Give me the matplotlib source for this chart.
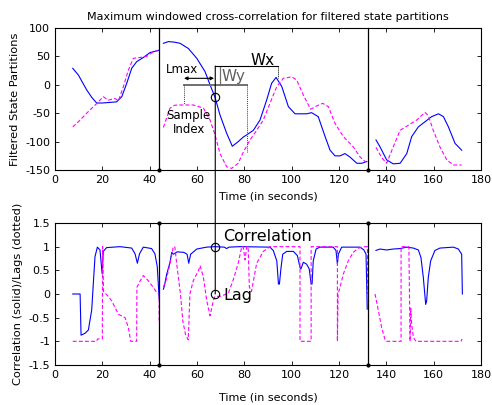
import matplotlib
matplotlib.use("Agg")
import matplotlib.pyplot as plt
from matplotlib.patches import ConnectionPatch
from matplotlib.ticker import FormatStrFormatter

plt.rcParams['font.family'] = ['DejaVu Sans']
plt.rcParams['axes.unicode_minus'] = False

# ---------------- data: top panel (filtered state partitions) ----------------
tx1 = [7.5, 9.9, 11.5, 13.4, 15.5, 17.6, 20, 23, 26, 28.2, 30.3, 32.4, 34.5, 37.3, 40.1, 43.2, 44]
x1 = [29, 17, 5, -9, -22, -32, -32, -31, -30, -21, 2.6, 29, 40.7, 48, 56.6, 60, 61]
tx2 = [45.8, 47.9, 50.5, 52.8, 56.3, 59.9, 63.4, 65.5, 67.6, 69.7, 72.5, 74.9, 77.4, 79.5, 81,
       83.8, 86.6, 89.4, 91.5, 93.4, 95.8, 98.6, 101.4, 106.3, 108.4, 111.2, 114.1, 116.2, 118.3,
       120.4, 122.5, 124.6, 127.5, 129.6, 131.7]
x2 = [73, 76, 75, 73, 64, 46.6, 23, 0, -22, -53, -85, -108, -100, -92, -88,
      -80, -62, -27, 2.6, 13, -3, -38.5, -51, -51, -49, -56, -91, -115, -125,
      -125, -121, -127, -138, -138, -135]
tx3 = [135.6, 137.3, 140.1, 142.9, 145.8, 148.6, 150.7, 153.5, 156.3, 159.1, 162, 164.1, 166.2, 169, 171.8]
x3 = [-97, -109, -132, -139, -138, -121, -91, -74, -65, -56, -51, -56, -74, -103, -115]

ty1 = [7.5, 10.6, 14.1, 17.6, 20.4, 22.5, 25.3, 26.8, 28.9, 31, 33.1, 35.9, 38.7, 41.5, 43.5]
y1 = [-74, -62, -47, -33, -21, -27, -24, -28, -3, 26, 46.6, 48, 50, 58, 60]
ty2 = [45.8, 47.0, 48.6, 50.5, 52.8, 58.4, 62.7, 65.5, 67.6, 69.7, 72.5, 74.6, 77.4, 79.6, 82.4,
       85.2, 88, 90.8, 93.7, 96.5, 100, 102.1, 104.9, 108, 110.6, 113.1, 115.5, 118.3, 121.8,
       126, 128.9, 131]
y2 = [-75, -60, -41, -36, -35.5, -35.5, -41, -62, -88, -121, -144, -147, -138, -118, -97,
      -80, -62, -32.6, -3, 11.4, 14, 8.5, -18, -43, -37, -32.6, -38.5, -68, -91,
      -109, -127, -135]
ty3 = [135.6, 138, 140.1, 142.9, 145.8, 149.3, 152.8, 156.3, 157.7, 159.8, 162.6, 165.5, 168.3, 171.8]
y3 = [-110, -128, -138, -109, -80, -71, -62, -48.5, -54, -80, -109, -132, -141, -141]

# ---------------- data: bottom panel (correlation / lag) ----------------
tc1 = [7.5, 10.6, 11.0, 12.7, 14.1, 15.5, 16.2, 16.9, 17.9, 19.0, 19.6, 19.9, 20.4, 21.8, 27.5,
       32.4, 33.8, 34.8, 35.7, 37.3, 40.8, 42.2, 43.2, 44.0]
c1 = [0, 0, -0.87, -0.83, -0.76, -0.34, 0.23, 0.79, 0.99, 0.93, 0.6, 0.43, 0.9, 0.98, 1.0,
      0.97, 0.85, 0.65, 0.85, 0.99, 0.96, 0.85, 0.58, -0.1]
tc2 = [45.8, 46.2, 47.2, 48.6, 49.3, 50.0, 51.6, 54.4, 55.8, 56.5, 57.3, 59.9, 64.1, 67.6, 71.5,
       72.5, 73.5, 78.2, 90.8, 92.2, 93.7, 94.4, 94.8, 95.5, 96.2, 97.9, 100.7, 102.4, 103.5,
       103.9, 104.9, 106.3, 107.4, 108.2, 108.6, 109.1, 110.3, 111.9, 117.5, 118.7, 119.3,
       119.7, 121.1, 128.9, 130.5, 131.4, 131.9]
c2 = [0.1, 0.17, 0.42, 0.67, 0.88, 0.84, 0.89, 0.88, 0.84, 0.65, 0.84, 0.95, 0.99, 1.0, 0.99,
      0.96, 0.99, 1.0, 0.99, 0.92, 0.70, 0.21, 0.21, 0.56, 0.84, 0.9, 0.9, 0.81, 0.56,
      0.53, 0.67, 0.63, 0.53, 0.21, 0.21, 0.70, 0.95, 0.99, 0.99, 0.92, 0.63,
      0.84, 0.99, 0.99, 0.93, 0.84, -0.32]
tc3 = [135.6, 137.3, 140.1, 142.9, 145.8, 148.6, 151.4, 153.5, 154.6, 155.6, 156.6, 157.0, 157.7,
       158.7, 160.5, 162.6, 168.3, 170.4, 171.8, 172.1]
c3 = [0.92, 0.95, 0.93, 0.95, 0.96, 0.99, 0.97, 0.93, 0.77, 0.35, -0.22, -0.15, 0.35,
      0.7, 0.92, 0.97, 0.99, 0.95, 0.84, 0.0]

tl1 = [7.5, 17.5, 18.0, 20.0, 20.1, 20.5, 22.5, 24.0, 26.8, 29.6, 31.0, 32.0, 34.5, 34.6, 36.0,
       37.3, 39.4, 41.5, 43.0, 44.0, 44.0]
l1 = [-1, -1, -0.95, -0.95, 1.0, 0.05, -0.05, -0.15, -0.43, -0.5, -0.71, -1.0, -1.0, 0.14, 0.28,
      0.39, 0.28, 0.14, 0.03, 0.0, -0.6]
tl2 = [45.8, 47.0, 48.6, 50.0, 50.6, 51.6, 53.0, 54.0, 55.1, 56.3, 57.0, 58.4, 60.6, 61.3, 62.7,
       64.1, 65.5, 66.9, 67.6, 69.7, 73.2, 75.3, 77.4, 78.9, 79.5, 80.3, 81.0, 81.6, 82.1, 83.0,
       85.2, 88.0, 90.8, 103.5, 103.5, 108.2, 108.2, 119.3, 119.3, 119.6, 120.4, 121.8, 123.9,
       126.0, 128.2, 131.0, 132.0, 132.0]
l2 = [0.15, 0.3, 0.65, 1.0, 1.0, 0.56, 0.0, -0.57, -0.85, -0.97, 0.0, 0.28, 0.49, 0.6, 0.35,
      -0.14, -0.46, -0.14, -0.05, -0.05, 0.01, 0.3, 0.65, 1.0, 1.0, 0.72, 1.0, 1.0, 0.15, 0.05,
      0.65, 0.9, 1.0, 1.0, -1.0, -1.0, 1.0, 1.0, -1.0, 0.0, 0.14, 0.42, 0.7,
      0.88, 0.97, 1.0, 1.0, 0.0]
tl3 = [135.2, 136.6, 138.0, 139.4, 140.0, 146.2, 146.2, 149.5, 150.0, 150.3, 150.6, 151.4, 152.5, 171.5, 172.0]
l3 = [0.0, -0.35, -0.71, -0.96, -1.0, -1.0, 1.0, 1.0, -1.0, -0.3, -0.6, -0.92, -1.0, -1.0, -0.95]

boundaries = [44.1, 132.4]
xticks = [0, 20, 40, 60, 80, 100, 120, 140, 160, 180]
top_yticks = [-150, -100, -50, 0, 50, 100]
bot_yticks = [-1.5, -1, -0.5, 0, 0.5, 1, 1.5]

BLUE = '#0000ff'
MAG = '#ff00ff'
DASH = (0, (3.5, 2))

fig = plt.figure(figsize=(4.92, 4.05), dpi=100)
ax1 = fig.add_axes([0.1118, 0.580, 0.866, 0.351])
ax2 = fig.add_axes([0.1118, 0.0988, 0.866, 0.3506])

for ax in (ax1, ax2):
    ax.set_xlim(0, 180)
    ax.set_xticks(xticks)
    ax.tick_params(direction='in', top=True, right=True, labelsize=8, length=3, width=0.6)
    for s in ax.spines.values():
        s.set_linewidth(0.8)

ax1.set_xlabel('Time (in seconds)', fontsize=8, labelpad=4.5)
ax2.set_xlabel('Time (in seconds)', fontsize=8, labelpad=9)

# top panel
for t, v in ((tx1, x1), (tx2, x2), (tx3, x3)):
    ax1.plot(t, v, color=BLUE, lw=0.8)
for t, v in ((ty1, y1), (ty2, y2), (ty3, y3)):
    ax1.plot(t, v, color=MAG, lw=0.8, ls=DASH)
ax1.set_ylim(-150, 100)
ax1.set_yticks(top_yticks)
ax1.set_ylabel('Filtered State Partitions', fontsize=8.2, labelpad=3.5)
ax1.set_title('Maximum windowed cross-correlation for filtered state partitions', fontsize=8, pad=6)
for b in boundaries:
    ax1.plot([b, b], [-150, 100], color='k', lw=0.9, clip_on=False)
    ax1.plot([b], [-150], 'k.', ms=4, clip_on=False)

# bottom panel
for t, v in ((tc1, c1), (tc2, c2), (tc3, c3)):
    ax2.plot(t, v, color=BLUE, lw=0.8)
for t, v in ((tl1, l1), (tl2, l2), (tl3, l3)):
    ax2.plot(t, v, color=MAG, lw=0.8, ls=DASH)
ax2.set_ylim(-1.5, 1.5)
ax2.set_yticks(bot_yticks)
ax2.yaxis.set_major_formatter(FormatStrFormatter('%g'))
ax2.set_ylabel('Correlation (solid)/Lags (dotted)', fontsize=8.2, labelpad=4)
for b in boundaries:
    ax2.plot([b, b], [-1.5, 1.5], color='k', lw=0.9, clip_on=False)
    ax2.plot([b, b], [-1.5, 1.5], 'k.', ms=4, clip_on=False)

# annotations (top)
xs = 67.7
ax1.plot([xs, 94.2], [33, 33], color='k', lw=0.8)
ax1.plot([94.2, 94.2], [33, 12], color='k', lw=0.7, ls=(0, (1, 1)))
ax1.text(87.5, 43, 'Wx', fontsize=11, ha='center', va='center')
ax1.plot([54.4, 81.1], [0, 0], color='#707070', lw=1.4)
ax1.plot([54.4, 54.4], [0, -33], color='#404040', lw=0.7, ls=(0, (1, 1)))
ax1.plot([81.1, 81.1], [0, -118], color='#404040', lw=0.7, ls=(0, (1, 1)))
ax1.plot([69.6, 69.6], [0, 32], color='#707070', lw=0.9)
ax1.text(75.5, 14, 'Wy', fontsize=11, ha='center', va='center', color='#606060')
ax1.annotate('', xy=(67.2, 11.4), xytext=(54.5, 11.4),
             arrowprops=dict(arrowstyle='<|-|>', color='k', lw=0.8, mutation_scale=5,
                             shrinkA=0, shrinkB=0))
ax1.text(53.5, 27, 'Lmax', fontsize=8.5, ha='center', va='center')
ax1.text(56.5, -66, 'Sample\nIndex', fontsize=8.5, ha='center', va='center', linespacing=1.05)
ax1.plot([xs], [-22], 'o', mfc='none', mec='k', ms=6, mew=0.8)

# annotations (bottom)
ax2.plot([xs], [1.0], 'o', mfc='none', mec='k', ms=6, mew=0.8)
ax2.plot([xs], [0.0], 'o', mfc='none', mec='k', ms=6, mew=0.8)
ax2.text(71.0, 1.21, 'Correlation', fontsize=11.5, ha='left', va='center')
ax2.text(71.0, -0.03, 'Lag', fontsize=11.5, ha='left', va='center')

con = ConnectionPatch(xyA=(xs, 33), coordsA=ax1.transData, xyB=(xs, 0), coordsB=ax2.transData,
                      color='k', lw=0.8)
fig.add_artist(con)

fig.savefig('out.png', dpi=100)
